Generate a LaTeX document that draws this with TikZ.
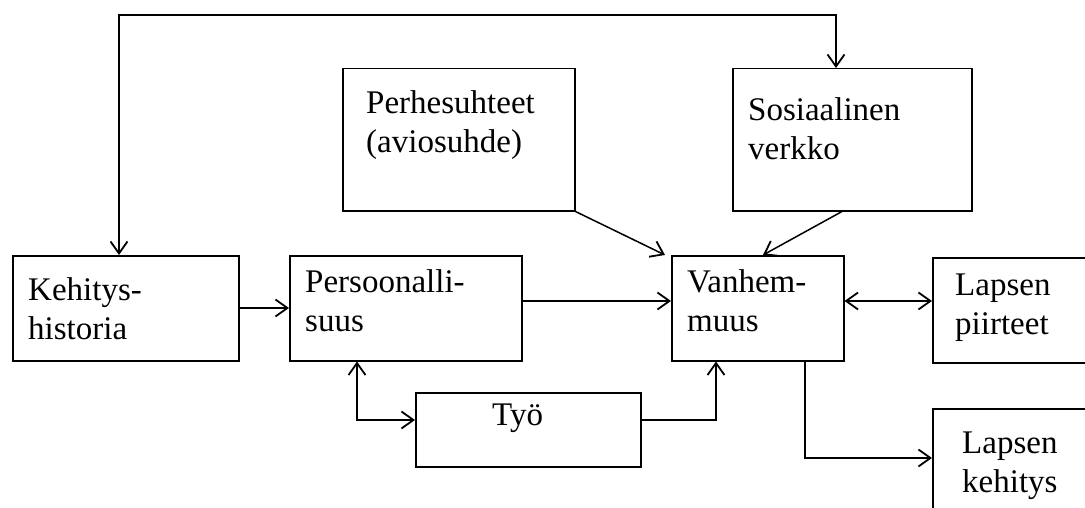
\documentclass[tikz,border=0pt]{standalone}
\usepackage{fontspec}
\setmainfont{Liberation Serif}
\usetikzlibrary{arrows.meta}
\tikzset{
  box/.style={draw, line width=1.5pt, rectangle, inner sep=0pt, anchor=north west},
  lbl/.style={inner sep=0pt, anchor=base west, font=\fontsize{33}{39}\selectfont},
  conn/.style={line width=1.5pt},
  >={Straight Barb[length=12pt,width=17pt,line width=1.8pt]}
}
\newcommand{\twoline}[2]{\vtop{\hbox{#1}\hbox{#2}}}
\begin{document}
\begin{tikzpicture}[x=1pt,y=-1pt]
\useasboundingbox (0,0) rectangle (1085,508);
% boxes
\node[box, minimum width=226pt, minimum height=105pt] (keh) at (12,255) {};
\node[box, minimum width=232pt, minimum height=105pt] (pers) at (289,255) {};
\node[box, minimum width=172pt, minimum height=105pt] (vanh) at (671,255) {};
\node[box, minimum width=232pt, minimum height=142pt] (perh) at (342,68) {};
\node[box, minimum width=239pt, minimum height=142pt] (sos) at (732,68) {};
\node[box, minimum width=160pt, minimum height=105pt] (lap1) at (932,257) {};
\node[box, minimum width=160pt, minimum height=110pt] (lap2) at (932,408) {};
\node[box, minimum width=225pt, minimum height=74pt] (tyo) at (415,392) {};
% texts
\node[lbl] (tkeh) at (28,300) {\twoline{Kehitys-}{historia}};
\node[lbl] (tpers) at (305,292) {\twoline{Persoonalli-}{suus}};
\node[lbl] (tvanh) at (687,292) {\twoline{Vanhem-}{muus}};
\node[lbl] (tperh) at (366,114) {\twoline{Perhesuhteet}{(aviosuhde)}};
\node[lbl] (tsos) at (748,121) {\twoline{Sosiaalinen}{verkko}};
\node[lbl] (tlap1) at (955,295) {\twoline{Lapsen}{piirteet}};
\node[lbl] (tlap2) at (962,453) {\twoline{Lapsen}{kehitys}};
\node[lbl] (ttyo) at (492,425) {Työ};
% helper coordinates
\coordinate (loopL) at (119,15);
\coordinate (loopR) at (836,15);
\coordinate (h308) at (0,308);
\coordinate (h301) at (0,301);
\coordinate (h458) at (0,458);
\coordinate (h420) at (0,420);
\coordinate (v805) at (805,0);
\coordinate (v716) at (716,0);
\coordinate (v357) at (357,0);
% connectors
\draw[conn,<->] (keh.north -| loopL) -- (loopL) -- (loopR) -- (sos.north -| loopR);
\draw[conn,->] (keh.east |- h308) -- (pers.west |- h308);
\draw[conn,->] (pers.east |- h301) -- (vanh.west |- h301);
\draw[conn,->] (perh.south east) -- ([xshift=-6pt]vanh.north west);
\draw[conn,->] ([xshift=110pt]sos.south west) -- ([xshift=92pt]vanh.north west);
\draw[conn,<->] (vanh.east |- h301) -- (lap1.west |- h301);
\draw[conn,->] (vanh.south -| v805) |- (lap2.west |- h458);
\draw[conn,->] (tyo.east |- h420) -| (vanh.south -| v716);
\draw[conn,<->] (pers.south -| v357) |- (tyo.west |- h420);
\end{tikzpicture}
\end{document}
